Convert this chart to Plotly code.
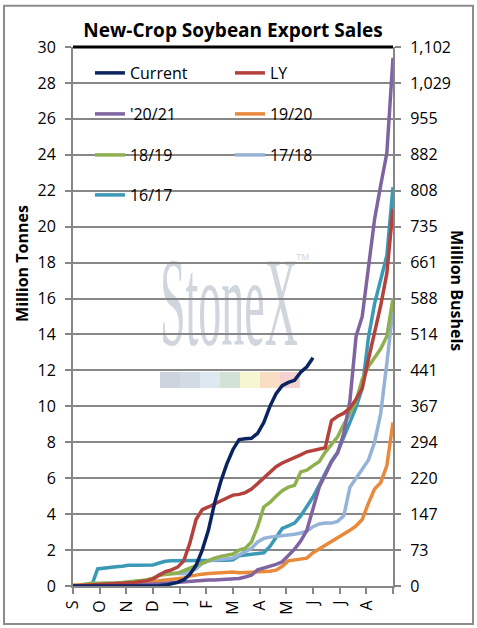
import base64
import plotly.graph_objects as go

# weekly cumulative new-crop sales, million tonnes (week 0 = start of Sep)
weeks = list(range(53))

current = [0, 0, 0, 0, 0, 0, 0, 0, 0, 0, 0, 0, 0, 0, 0.02, 0.05, 0.12, 0.2, 0.35, 0.65,
           1.15, 2.0, 3.1, 4.6, 5.8, 6.8, 7.6, 8.15, 8.2, 8.22, 8.5, 9.1, 10.0, 10.7, 11.15, 11.33,
           11.45, 11.9, 12.2, 12.7]
ly = [0, 0.02, 0.03, 0.05, 0.06, 0.08, 0.1, 0.12, 0.15, 0.18, 0.2, 0.25, 0.3, 0.4, 0.6, 0.8,
      0.9, 1.05, 1.4, 2.4, 3.7, 4.25, 4.4, 4.55, 4.7, 4.9, 5.06, 5.1, 5.2, 5.4, 5.7, 6.0, 6.3,
      6.64, 6.85, 7.0, 7.1, 7.3, 7.47, 7.55, 7.6, 7.7, 9.2, 9.45, 9.62, 9.9, 10.4, 11.0, 12.6,
      14.1, 15.6, 17.4, 21.0]
y2021 = [0, 0, 0, 0, 0, 0, 0.01, 0.02, 0.03, 0.04, 0.05, 0.06, 0.08, 0.1, 0.12, 0.15, 0.18,
         0.22, 0.25, 0.28, 0.3, 0.32, 0.33, 0.34, 0.35, 0.37, 0.39, 0.42, 0.5, 0.6, 0.9, 1.0,
         1.08, 1.2, 1.35, 1.7, 2.05, 2.5, 3.1, 4.3, 5.5, 6.2, 6.9, 7.4, 8.5, 10.3, 13.9, 15.0,
         17.7, 20.4, 22.3, 24.1, 29.4]
y1920 = [0.05, 0.05, 0.05, 0.05, 0.05, 0.05, 0.05, 0.06, 0.07, 0.08, 0.1, 0.12, 0.15, 0.2,
         0.3, 0.33, 0.36, 0.4, 0.45, 0.55, 0.62, 0.66, 0.7, 0.72, 0.75, 0.78, 0.78, 0.74, 0.75,
         0.77, 0.8, 0.8, 0.82, 0.88, 1.1, 1.4, 1.45, 1.5, 1.55, 1.85, 2.05, 2.3, 2.5, 2.7, 2.9,
         3.1, 3.35, 3.7, 4.6, 5.4, 5.75, 6.7, 9.1]
y1819 = [0, 0.05, 0.1, 0.15, 0.15, 0.15, 0.17, 0.18, 0.2, 0.22, 0.25, 0.3, 0.35, 0.43, 0.6,
         0.65, 0.68, 0.72, 0.85, 1.0, 1.15, 1.3, 1.45, 1.55, 1.65, 1.72, 1.78, 2.0, 2.1, 2.45,
         3.3, 4.4, 4.65, 5.0, 5.3, 5.5, 5.6, 6.35, 6.45, 6.7, 6.92, 7.45, 7.9, 8.3, 9.0, 9.6,
         10.3, 11.5, 12.2, 12.7, 13.2, 13.9, 16.0]
y1718 = [0, 0, 0, 0, 0, 0, 0, 0.02, 0.04, 0.06, 0.1, 0.15, 0.2, 0.3, 0.65, 0.7, 0.72, 0.7,
         0.68, 0.82, 0.95, 1.25, 1.4, 1.45, 1.5, 1.52, 1.55, 1.75, 1.9, 2.1, 2.45, 2.65, 2.72,
         2.75, 2.8, 2.85, 2.88, 2.95, 3.05, 3.3, 3.45, 3.5, 3.5, 3.6, 3.9, 5.5, 6.0, 6.5, 7.0,
         8.0, 9.6, 12.4, 15.4]
y1617 = [0, 0, 0, 0, 0.95, 1.0, 1.03, 1.07, 1.1, 1.15, 1.15, 1.15, 1.15, 1.17, 1.28, 1.38,
         1.41, 1.41, 1.41, 1.41, 1.42, 1.44, 1.45, 1.42, 1.42, 1.44, 1.46, 1.68, 1.72, 1.75,
         1.78, 1.85, 2.2, 2.7, 3.2, 3.35, 3.5, 3.9, 4.4, 4.95, 5.6, 6.3, 6.95, 7.45, 8.3, 9.1,
         9.95, 11.0, 13.8, 15.7, 17.0, 18.4, 22.2]

month_labels = ["S", "O", "N", "D", "J", "F", "M", "A", "M", "J", "J", "A", ""]
tonne_ticks = list(range(0, 31, 2))
bushel_labels = ["0", "73", "147", "220", "294", "367", "441", "514", "588", "661",
                 "735", "808", "882", "955", "1,029", "1,102"]

series = [
    ("Current", current, "#0b2461", "legend"),
    ("LY", ly, "#b5413d", "legend"),
    ("'20/21", y2021, "#8064a2", "legend2"),
    ("19/20", y1920, "#e98a3b", "legend2"),
    ("18/19", y1819, "#8fb04f", "legend3"),
    ("17/18", y1718, "#95b3d7", "legend3"),
    ("16/17", y1617, "#3a9ab6", "legend4"),
]

FONT = "Open Sans"
GRAY = "#878787"

fig = go.Figure()
# draw last series first so "Current" ends up on top
for rank, (name, vals, color, leg) in reversed(list(enumerate(series))):
    fig.add_trace(go.Scatter(x=weeks[:len(vals)], y=vals, name=name, mode="lines",
                             line=dict(color=color, width=3.5), legend=leg, legendrank=rank))

# keeps the right (bushel) axis alive
fig.add_trace(go.Scatter(x=weeks[:1], y=[0], yaxis="y2", mode="lines",
                         line=dict(width=0), showlegend=False, hoverinfo="skip"))

# StoneX watermark as an inline svg placed under the grid
svg = """<svg xmlns='http://www.w3.org/2000/svg' width='170' height='155' viewBox='0 0 170 155'>
<text x='10' y='105' font-family='Liberation Serif' font-size='126' fill='#cfd6de'
 textLength='138' lengthAdjust='spacingAndGlyphs'>StoneX</text>
<text x='146' y='20' font-family='Liberation Sans' font-size='9' fill='#cfd6de'>TM</text>
<rect x='10' y='132' width='20' height='16' fill='#cdd3dc'/>
<rect x='30' y='132' width='20' height='16' fill='#d2dae4'/>
<rect x='50' y='132' width='20' height='16' fill='#dde8f1'/>
<rect x='70' y='132' width='20' height='16' fill='#d2e2d6'/>
<rect x='90' y='132' width='20' height='16' fill='#f6f6d2'/>
<rect x='110' y='132' width='20' height='16' fill='#f9dec4'/>
<rect x='130' y='132' width='20' height='16' fill='#f4d2d2'/>
</svg>"""
svg_uri = "data:image/svg+xml;base64," + base64.b64encode(svg.encode()).decode()

leg_common = dict(orientation="h", x=0.053, xanchor="left", yanchor="middle",
                  entrywidth=95, entrywidthmode="pixels", bgcolor="rgba(0,0,0,0)",
                  font=dict(family=FONT, size=16, color="black"))

axis_font = dict(family=FONT, size=16, color="black")

fig.update_layout(
    width=477, height=628, autosize=False,
    margin=dict(l=73, r=84, t=47, b=42),
    paper_bgcolor="white", plot_bgcolor="white",
    title=dict(text="<b>New-Crop Soybean Export Sales</b>", x=0.5, xref="paper",
               xanchor="center", y=0.952, yanchor="middle",
               font=dict(family=FONT, size=19, color="black")),
    legend=dict(y=0.9518, **leg_common),
    legend2=dict(y=0.8757, **leg_common),
    legend3=dict(y=0.7996, **leg_common),
    legend4=dict(y=0.7254, **leg_common),
    xaxis=dict(range=[0, 52], tickvals=[i * 52 / 12 for i in range(13)], ticktext=month_labels,
               tickangle=-90, showgrid=False, zeroline=False, showline=True, linecolor=GRAY,
               linewidth=2, ticks="outside", ticklen=6, tickwidth=2, tickcolor=GRAY,
               tickfont=axis_font),
    yaxis=dict(range=[0, 30], tickvals=tonne_ticks, showgrid=True, gridcolor=GRAY, gridwidth=2,
               zeroline=False, showline=True, linecolor=GRAY, linewidth=2, ticks="outside",
               ticklen=6, tickwidth=2, tickcolor=GRAY, tickfont=axis_font,
               ticklabelstandoff=6),
    yaxis2=dict(range=[0, 30], overlaying="y", side="right", tickvals=tonne_ticks,
                ticktext=bushel_labels, showgrid=False, zeroline=False, showline=True,
                linecolor=GRAY, linewidth=2, ticks="outside", ticklen=6, tickwidth=2,
                tickcolor=GRAY, tickfont=axis_font, ticklabelstandoff=6),
    images=[dict(source=svg_uri, xref="paper", yref="paper", x=0.2406, y=0.6419,
                 sizex=0.53125, sizey=0.28757, sizing="stretch", xanchor="left",
                 yanchor="top", layer="below")],
    shapes=[
        # white box behind the legend hides the upper grid lines
        dict(type="rect", xref="paper", yref="paper", x0=0.004, x1=0.8875, y0=0.694, y1=1,
             fillcolor="white", line=dict(width=0), layer="between"),
        dict(type="line", xref="paper", yref="paper", x0=0, x1=1, y0=1, y1=1,
             line=dict(color="black", width=3)),
        dict(type="rect", xref="paper", yref="paper", x0=-0.2156, x1=1.25, y0=-0.0705,
             y1=1.0766, line=dict(color="#8c8c8c", width=2)),
    ],
    annotations=[
        dict(text="<b>Million Tonnes</b>", xref="paper", yref="paper", x=-0.16, y=0.599,
             xanchor="center", yanchor="middle", textangle=-90, showarrow=False,
             font=dict(family=FONT, size=16, color="black")),
        dict(text="<b>Million Bushels</b>", xref="paper", yref="paper", x=1.2, y=0.549,
             xanchor="center", yanchor="middle", textangle=90, showarrow=False,
             font=dict(family=FONT, size=16, color="black")),
    ],
)

# drop the browser's default 8px body margin so the figure sits at the page corner
fig.write_html("out.html", config={"displayModeBar": False},
               post_script="document.body.style.margin='0';")
